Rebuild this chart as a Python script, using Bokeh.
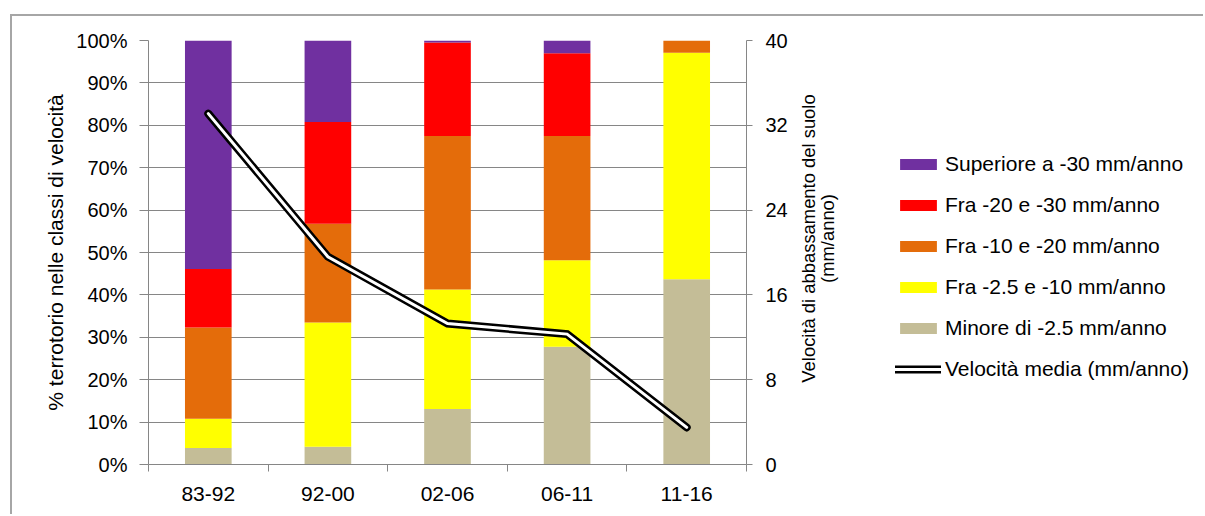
import math
import numpy as np
from bokeh.plotting import figure
from bokeh.layouts import row
from bokeh.models import (ColumnDataSource, Range1d, LinearAxis, FixedTicker,
                          PrintfTickFormatter, Legend, LegendItem)
from bokeh.embed import file_html
from bokeh.resources import INLINE

# ---- data ----
periods = ["83-92", "92-00", "02-06", "06-11", "11-16"]
minore_2_5 = [3.9, 4.2, 13.1, 27.8, 43.7]      # Minore di -2.5 mm/anno
fra_2_5_10 = [6.9, 29.3, 28.2, 20.4, 53.4]     # Fra -2.5 e -10 mm/anno
fra_10_20 = [21.5, 23.3, 36.2, 29.3, 2.9]      # Fra -10 e -20 mm/anno
fra_20_30 = [13.8, 24.0, 22.0, 19.5, 0.0]      # Fra -20 e -30 mm/anno
sup_30 = [53.9, 19.2, 0.5, 3.0, 0.0]           # Superiore a -30 mm/anno
vel_media = [33.1, 19.6, 13.3, 12.3, 3.5]      # Velocità media (mm/anno)

pct_ticks = [0, 10, 20, 30, 40, 50, 60, 70, 80, 90, 100]
vel_ticks = [0, 8, 16, 24, 32, 40]

series_names = ["Minore di -2.5 mm/anno", "Fra -2.5 e -10 mm/anno",
                "Fra -10 e -20 mm/anno", "Fra -20 e -30 mm/anno",
                "Superiore a -30 mm/anno"]
series_keys = ["minore", "fra_2_5_10", "fra_10_20", "fra_20_30", "sup_30"]
colors = ["#C4BD97", "#FFFF00", "#E46C0A", "#FF0000", "#7030A0"]
line_label = "Velocità media (mm/anno)"
left_title = "% terrotorio nelle classi di velocità"
right_title = "Velocità di abbassamento del suolo\n(mm/anno)"

FONT = "Liberation Sans"
GRAY = "#868686"
BORDER = "2px solid #A6A6A6"

x = [i + 0.5 for i in range(len(periods))]
src = ColumnDataSource(dict(x=x, minore=minore_2_5, fra_2_5_10=fra_2_5_10,
                            fra_10_20=fra_10_20, fra_20_30=fra_20_30, sup_30=sup_30,
                            vel=vel_media))

# ---------------- main plot ----------------
p = figure(width=784, height=500, x_range=Range1d(0, len(periods)),
           y_range=Range1d(0, 100), output_backend="svg", toolbar_location=None,
           min_border_left=136, min_border_right=50, min_border_top=24,
           min_border_bottom=52, outline_line_color=None,
           margin=(14, 0, 0, 10),
           styles={"border-top": BORDER, "border-left": BORDER})
p.extra_y_ranges = {"vel": Range1d(0, 40)}

bars = p.vbar_stack(series_keys, x="x", width=0.39, color=colors,
                    line_color=None, source=src)

p.line("x", "vel", source=src, y_range_name="vel", line_color="black",
       line_width=8, line_cap="round", line_join="miter")
p.line("x", "vel", source=src, y_range_name="vel", line_color="white",
       line_width=3, line_cap="round", line_join="miter")

p.xgrid.grid_line_color = None
p.ygrid.ticker = FixedTicker(ticks=pct_ticks)
p.ygrid.grid_line_color = GRAY
p.ygrid.grid_line_width = 1

xa = p.xaxis[0]
xa.ticker = FixedTicker(ticks=x, minor_ticks=list(range(len(periods) + 1)))
xa.major_label_overrides = {xv: lab for xv, lab in zip(x, periods)}
xa.major_tick_out = 0
xa.major_tick_in = 0
xa.minor_tick_out = 7
xa.minor_tick_in = 0
xa.minor_tick_line_color = GRAY
xa.axis_line_color = GRAY
xa.major_label_standoff = 15
xa.major_label_text_font = FONT
xa.major_label_text_font_size = "21px"
xa.major_label_text_color = "black"

ya = p.yaxis[0]
ya.ticker = FixedTicker(ticks=pct_ticks)
ya.formatter = PrintfTickFormatter(format="%d%%")
ya.major_tick_out = 9
ya.major_tick_in = 0
ya.minor_tick_out = 0
ya.minor_tick_in = 0
ya.major_tick_line_color = GRAY
ya.axis_line_color = GRAY
ya.major_label_standoff = 12
ya.major_label_text_font = FONT
ya.major_label_text_font_size = "20px"
ya.major_label_text_color = "black"
ya.axis_label = left_title
ya.axis_label_text_font = FONT
ya.axis_label_text_font_size = "21px"
ya.axis_label_text_font_style = "normal"
ya.axis_label_text_color = "black"
ya.axis_label_standoff = 6

ra = LinearAxis(y_range_name="vel", ticker=FixedTicker(ticks=vel_ticks))
ra.major_tick_out = 6
ra.major_tick_in = 0
ra.minor_tick_out = 0
ra.minor_tick_in = 0
ra.major_tick_line_color = GRAY
ra.axis_line_color = GRAY
ra.major_label_standoff = 13
ra.major_label_text_font = FONT
ra.major_label_text_font_size = "20px"
ra.major_label_text_color = "black"
p.add_layout(ra, "right")

# ---------------- side panel: right-axis title + legend ----------------
p2 = figure(width=409, height=500, x_range=Range1d(0, 1), y_range=Range1d(0, 1),
            output_backend="svg", toolbar_location=None, x_axis_location=None,
            min_border_left=50, min_border_right=0, min_border_top=24,
            min_border_bottom=80, outline_line_color=None,
            margin=(14, 0, 0, 0), styles={"border-top": BORDER})
try:
    p2.frame_align = False
    p.frame_align = False
except Exception:
    p2.min_border_bottom = 52
p2.xgrid.grid_line_color = None
p2.ygrid.grid_line_color = None
sa = p2.yaxis[0]
sa.ticker = FixedTicker(ticks=[])
sa.axis_line_color = None
sa.major_tick_out = 0
sa.minor_tick_out = 0
sa.axis_label = right_title
sa.axis_label_text_font = FONT
sa.axis_label_text_font_size = "18.4px"
sa.axis_label_text_font_style = "normal"
sa.axis_label_text_color = "black"
sa.axis_label_text_line_height = 0.9
sa.axis_label_standoff = 12

swatch = ColumnDataSource(dict(x=np.array([np.nan]), y=np.array([np.nan])))
leg_bars = [p2.vbar(x="x", top="y", width=0.1, color=c, line_color=None, source=swatch)
            for c in colors]
leg_out = p2.line("x", "y", source=swatch, line_color="black", line_width=8,
                  line_cap="round")
leg_in = p2.line("x", "y", source=swatch, line_color="white", line_width=3,
                 line_cap="round")

leg_bottom = 53 if p2.min_border_bottom == 80 else 81
items = [LegendItem(label=name, renderers=[r])
         for r, name in reversed(list(zip(leg_bars, series_names)))]
items.append(LegendItem(label=line_label, renderers=[leg_out, leg_in]))
legend = Legend(items=items, location=(46, leg_bottom), orientation="vertical",
                border_line_color=None, background_fill_alpha=0, padding=0,
                margin=0, spacing=13, label_standoff=4, glyph_width=46,
                glyph_height=14, label_height=28, label_text_font=FONT,
                label_text_font_size="21px", label_text_color="black")
p2.add_layout(legend)

layout = row(p, p2, spacing=0)
open("out.html", "w").write(file_html(layout, INLINE))
